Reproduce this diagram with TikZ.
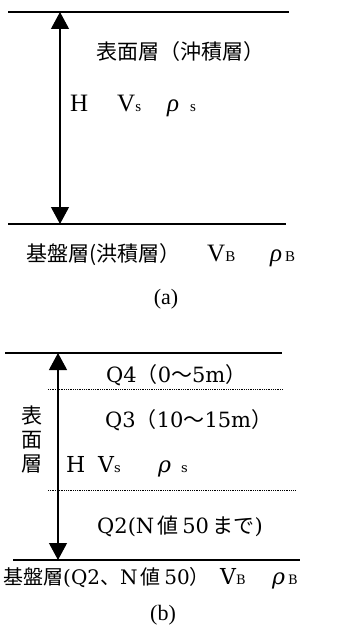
\documentclass[tikz,border=0pt]{standalone}
\usepackage{fontspec}
\setmainfont{Liberation Serif}
\newfontfamily\jpf{Noto Sans CJK JP}
\newfontfamily\cent{DejaVu Serif}
\usetikzlibrary{arrows.meta}
\newcommand\jp[1]{{\jpf #1}}
\newcommand\sbs[1]{{\fontsize{15}{15}\selectfont #1}}
\newcommand\sbb[1]{{\fontsize{13}{13}\selectfont #1}}
\begin{document}
\begin{tikzpicture}[x=1pt,y=-1pt,
  layer/.style={line width=1.4pt},
  sepline/.style={line width=0.8pt, densely dotted},
  dimarrow/.style={line width=1.1pt, {Triangle[width=18pt,length=17pt]}-{Triangle[width=18pt,length=17pt]}},
  lbl/.style={inner sep=0pt, font=\fontsize{21}{21}\selectfont},
  lbla/.style={inner sep=0pt, font=\fontsize{25}{25}\selectfont},
  lblb/.style={inner sep=0pt, font=\fontsize{21}{21}\selectfont\cent},
  lblbb/.style={inner sep=0pt, font=\fontsize{22}{22}\selectfont\cent},
  captxt/.style={inner sep=0pt, font=\fontsize{22}{22}\selectfont},
  ]
\useasboundingbox (0,0) rectangle (345,631);
% ---------- (a) ----------
\coordinate (aTL) at (8,12);
\coordinate (aTR) at (289,12);
\coordinate (aBL) at (8,224);
\coordinate (aBR) at (286,224);
\coordinate (aAT) at (60,12);
\coordinate (aAB) at (60,224);
\draw[layer] (aTL) -- (aTR);
\draw[layer] (aBL) -- (aBR);
\draw[dimarrow] (aAT) -- (aAB);
\node[lbl] (aTitle) at (180,52) {\jp{表面層（沖積層）}};
\node[lbla, anchor=base west] (aH) at (70,112) {H};
\node[lbla, anchor=base west] (aV) at (117,112) {V\sbs{s}};
\node[lbla, anchor=base west] (aR) at (167,112) {\textit{ρ}\hspace{11pt}\sbs{s}};
\node[lbl, anchor=base west] (aBase) at (26,261) {\jp{基盤層(洪積層）}};
\node[lbla, anchor=base west] (aVB) at (207,261) {V\sbs{B}};
\node[lbla, anchor=base west] (aRB) at (270,261) {\textit{ρ}\hspace{3pt}\sbs{B}};
\node[captxt] (aCap) at (166,299) {(a)};
% ---------- (b) ----------
\coordinate (bTL) at (5,353);
\coordinate (bTR) at (282,353);
\coordinate (bD1L) at (48,389);
\coordinate (bD1R) at (283,389);
\coordinate (bD2L) at (48,490);
\coordinate (bD2R) at (295,490);
\coordinate (bBL) at (13,560);
\coordinate (bBR) at (300,560);
\coordinate (bAT) at (58,353);
\coordinate (bAB) at (58,560);
\draw[layer] (bTL) -- (bTR);
\draw[sepline] (bD1L) -- (bD1R);
\draw[sepline] (bD2L) -- (bD2R);
\draw[layer] (bBL) -- (bBR);
\draw[dimarrow] (bAT) -- (bAB);
\node[lblb, anchor=west] (bQ4) at (106,375) {Q4\jp{（}0\jp{〜}5m\jp{）}};
\node[lblb, anchor=west] (bQ3) at (105,420) {Q3\jp{（}10\jp{〜}15m\jp{）}};
\node[lbl] (bV1) at (32,416) {\jp{表}};
\node[lbl] (bV2) at (32,440) {\jp{面}};
\node[lbl] (bV3) at (32,464) {\jp{層}};
\node[lblbb, anchor=base west] (bH) at (66,472) {H};
\node[lblbb, anchor=base west] (bV) at (98,472) {V\sbb{s}};
\node[lblbb, anchor=base west] (bR) at (158,472) {\textit{ρ}\hspace{10pt}\sbb{s}};
\node[lblb, anchor=west] (bQ2) at (97,526) {Q2(N\,\jp{値}\,50\,\jp{まで})};
\node[lblb, anchor=base west, font=\fontsize{20}{20}\selectfont\cent] (bBase) at (3,584) {\jp{基盤層}(Q2\jp{、}N\,\jp{値}\,50\jp{）}};
\node[lblbb, anchor=base west] (bVB) at (220,584) {V\sbb{B}};
\node[lblbb, anchor=base west] (bRB) at (272,584) {\textit{ρ}\hspace{3pt}\sbb{B}};
\node[captxt] (bCap) at (163,615) {(b)};
\end{tikzpicture}
\end{document}
